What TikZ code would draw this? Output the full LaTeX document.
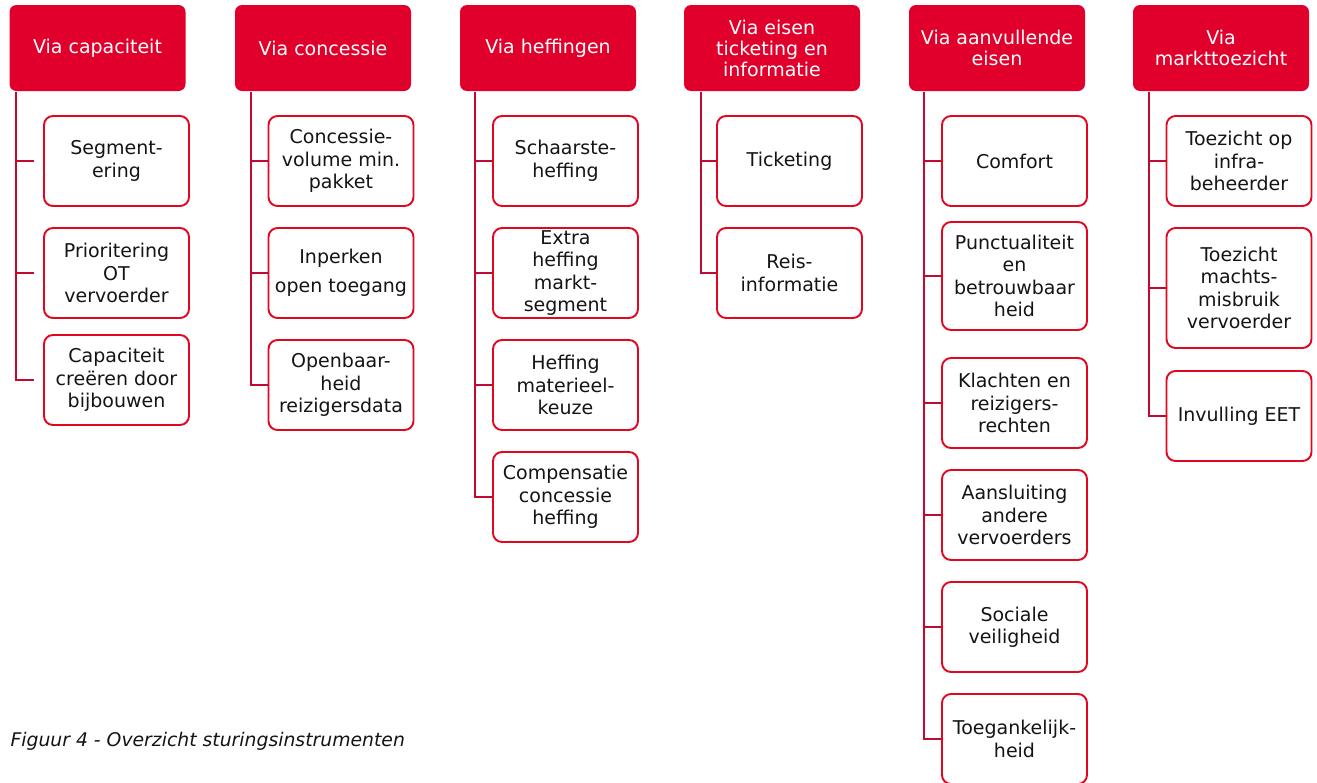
\documentclass[tikz,border=0pt]{standalone}
\usepackage{fontspec}
\setmainfont{DejaVu Sans}
\definecolor{headred}{HTML}{E0002B}
\definecolor{boxred}{HTML}{E2061F}
\definecolor{linkred}{HTML}{C20A30}
\definecolor{ink}{HTML}{141414}
\tikzset{
    head/.style={fill=headred, rounded corners=7pt, minimum width=176pt, minimum height=86pt,
        inner sep=0pt, text=white, align=center, font=\fontsize{19}{21}\selectfont},
    item/.style={draw=boxred, line width=1.9pt, rounded corners=9pt, minimum width=145pt,
        minimum height=90pt, inner sep=0pt, text=ink, align=center, font=\fontsize{19}{22.5}\selectfont},
    link/.style={draw=linkred, line width=2.4pt},
}
\begin{document}
\begin{tikzpicture}[x=1pt, y=-1pt]
    \useasboundingbox (0,0) rectangle (1317,782);
    % headers
    \node[head] (capaciteit) at (97.5,48) {Via capaciteit};
    \node[head] (concessie) at (323,48) {Via concessie};
    \node[head] (heffingen) at (548,48) {Via heffingen};
    \node[head] (eisen) at (772,48) {Via eisen\\ticketing en\\informatie};
    \node[head] (aanvullend) at (997,48) {Via aanvullende\\eisen};
    \node[head] (toezicht) at (1221,48) {Via\\markttoezicht};
    % via capaciteit
    \node[item] (segment) at (116.5,161) {Segment-\\ering};
    \node[item] (prio) at (116.5,273) {Prioritering\\OT\\vervoerder};
    \node[item] (bijbouw) at (116.5,380) {Capaciteit\\creëren door\\bijbouwen};
    % via concessie
    \node[item] (volume) at (341,161) {Concessie-\\volume min.\\pakket};
    \node[item] (toegang) at (341,273) {Inperken\\[7pt]open toegang};
    \node[item] (data) at (341,385) {Openbaar-\\heid\\reizigersdata};
    % via heffingen
    \node[item] (schaarste) at (565.5,161) {Schaarste-\\heffing};
    \node[item] (extra) at (565.5,273) {Extra\\heffing\\markt-\\segment};
    \node[item] (materieel) at (565.5,385) {Heffing\\materieel-\\keuze};
    \node[item] (compensatie) at (565.5,497) {Compensatie\\concessie\\heffing};
    % via eisen ticketing
    \node[item] (ticketing) at (789.5,161) {Ticketing};
    \node[item] (reisinfo) at (789.5,273) {Reis-\\informatie};
    % via aanvullende eisen
    \node[item] (comfort) at (1014.5,161) {Comfort};
    \node[item, minimum height=108pt] (punctueel) at (1014.5,276) {Punctualiteit\\en\\betrouwbaar\\heid};
    \node[item] (klachten) at (1014.5,403) {Klachten en\\reizigers-\\rechten};
    \node[item] (aansluiting) at (1014.5,515) {Aansluiting\\andere\\vervoerders};
    \node[item] (veilig) at (1014.5,627) {Sociale\\veiligheid};
    \node[item] (toegankelijk) at (1014.5,739) {Toegankelijk-\\heid};
    % via markttoezicht
    \node[item] (infra) at (1239,161) {Toezicht op\\infra-\\beheerder};
    \node[item, minimum height=120pt] (machts) at (1239,288) {Toezicht\\machts-\\misbruik\\vervoerder};
    \node[item] (eet) at (1239,416) {Invulling EET};
    % connectors
    \coordinate (l1) at (16,92);
    \coordinate (l2) at (251,92);
    \coordinate (l3) at (475,92);
    \coordinate (l4) at (701,92);
    \coordinate (l5) at (924,92);
    \coordinate (l6) at (1149,92);
    \draw[link, shorten >=9pt] (l1) |- (bijbouw.west);
    \foreach \b in {segment, prio}
        \draw[link, shorten >=9pt] (l1 |- \b.west) -- (\b.west);
    \draw[link] (l2) |- (data.west);
    \foreach \b in {volume, toegang}
        \draw[link] (l2 |- \b.west) -- (\b.west);
    \draw[link] (l3) |- (compensatie.west);
    \foreach \b in {schaarste, extra, materieel}
        \draw[link] (l3 |- \b.west) -- (\b.west);
    \draw[link] (l4) |- (reisinfo.west);
    \draw[link] (l4 |- ticketing.west) -- (ticketing.west);
    \draw[link] (l5) |- (toegankelijk.west);
    \foreach \b in {comfort, punctueel, klachten, aansluiting, veilig}
        \draw[link] (l5 |- \b.west) -- (\b.west);
    \draw[link] (l6) |- (eet.west);
    \foreach \b in {infra, machts}
        \draw[link] (l6 |- \b.west) -- (\b.west);
    % caption
    \node[anchor=base west, text=ink, font=\itshape\fontsize{18.8}{21}\selectfont] (caption) at (7,746)
        {Figuur 4 - Overzicht sturingsinstrumenten};
\end{tikzpicture}
\end{document}
